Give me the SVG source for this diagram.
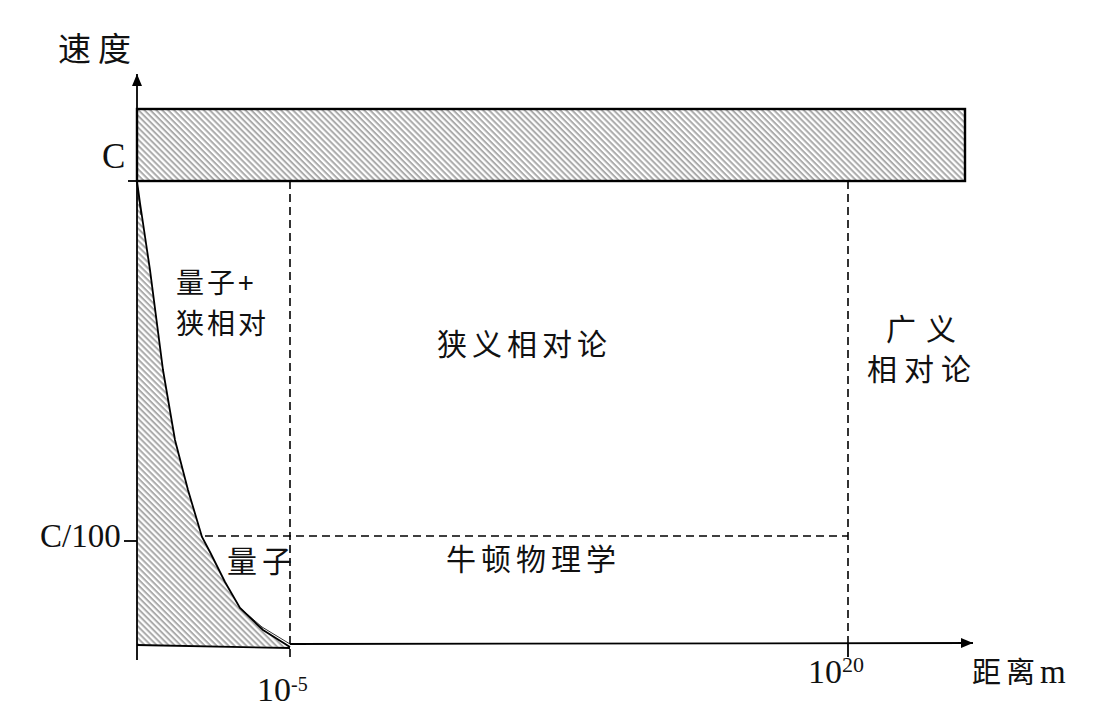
<svg xmlns="http://www.w3.org/2000/svg" width="1097" height="720" viewBox="0 0 1097 720">
<style>
.cjk{font-family:"Noto Sans CJK SC","Noto Sans CJK JP",sans-serif;fill:#111;font-weight:400}
.lat{font-family:"Liberation Serif","Times New Roman",serif;fill:#111}
.axis{stroke:#000;stroke-width:1.8;fill:none}
.dash{stroke:#000;stroke-width:1.6;stroke-dasharray:8,5;fill:none}
</style>
<defs>
<pattern id="hatch" width="4.2" height="4.2" patternUnits="userSpaceOnUse" patternTransform="rotate(45)">
<rect width="4.2" height="4.2" fill="#fff"/>
<rect width="4.2" height="2" fill="#ababab"/>
</pattern>
<marker id="arr" viewBox="0 0 12 10" refX="12" refY="5" markerWidth="12" markerHeight="10" markerUnits="userSpaceOnUse" orient="auto">
<path d="M0,0 L12,5 L0,10 Z" fill="#000"/>
</marker>
</defs>
<rect width="1097" height="720" fill="#fff"/>

<g id="light-limit">
<rect x="137" y="109" width="828" height="72" fill="url(#hatch)" stroke="#000" stroke-width="2.4"/>
</g>

<g id="quantum-region">
<path d="M137,181 L140,203 L150,270 L163,370 L175,440 L188,490 L202,537 L210,552 L225,582 L240,608 L263,630 L290,647 L137,645 Z" fill="url(#hatch)" stroke="none"/>
<path d="M137,181 L140,203 L150,270 L163,370 L175,440 L188,490 L202,537 L210,552 L225,582 L240,608 L263,630 L290,647" class="axis"/>
<path d="M137,183 L139,200 L141,215" stroke="#000" stroke-width="0.8" fill="none"/>
<path d="M240,608 L262,627 L290,644" stroke="#000" stroke-width="0.8" fill="none"/>
<path d="M137,645 L290,648" class="axis"/>
</g>

<g id="connectors">
<path d="M137,660 L137,74" class="axis" marker-end="url(#arr)"/>
<path d="M290,644 L973,643" class="axis" marker-end="url(#arr)"/>
<path d="M128,181 L137,181" class="axis"/>
<path d="M124,541 L137,541" class="axis"/>
<path d="M290,181 L290,658" class="dash"/>
<path d="M848,181 L848,643" class="dash"/>
<path d="M848,643 L848,657" class="axis"/>
<path d="M205,536 L848,536" class="dash"/>
</g>

<g id="labels-axes">
<text x="58" y="61" class="cjk" font-size="33" letter-spacing="7">速度</text>
<text x="102" y="168" class="lat" font-size="35">C</text>
<text x="40" y="547" class="lat" font-size="33">C/100</text>
<text x="257" y="701" class="lat" font-size="34">10<tspan font-size="20" dy="-10">-5</tspan></text>
<text x="808" y="683" class="lat" font-size="34">10<tspan font-size="22" dy="-11">20</tspan></text>
<text x="972" y="683" class="cjk" font-size="29" letter-spacing="5">距离<tspan class="lat" font-size="33" letter-spacing="0">m</tspan></text>
</g>

<g id="region-quantum-sr">
<text x="176" y="293" class="cjk" font-size="28" letter-spacing="3">量子+</text>
<text x="176" y="334" class="cjk" font-size="28" letter-spacing="3">狭相对</text>
</g>
<g id="region-sr">
<text x="437" y="355" class="cjk" font-size="30" letter-spacing="5">狭义相对论</text>
</g>
<g id="region-gr">
<text x="886" y="340" class="cjk" font-size="30" letter-spacing="10">广义</text>
<text x="867" y="380" class="cjk" font-size="30" letter-spacing="7">相对论</text>
</g>
<g id="region-quantum">
<text x="227" y="572" class="cjk" font-size="30" letter-spacing="5">量子</text>
</g>
<g id="region-newton">
<text x="446" y="570" class="cjk" font-size="30" letter-spacing="5">牛顿物理学</text>
</g>
</svg>
